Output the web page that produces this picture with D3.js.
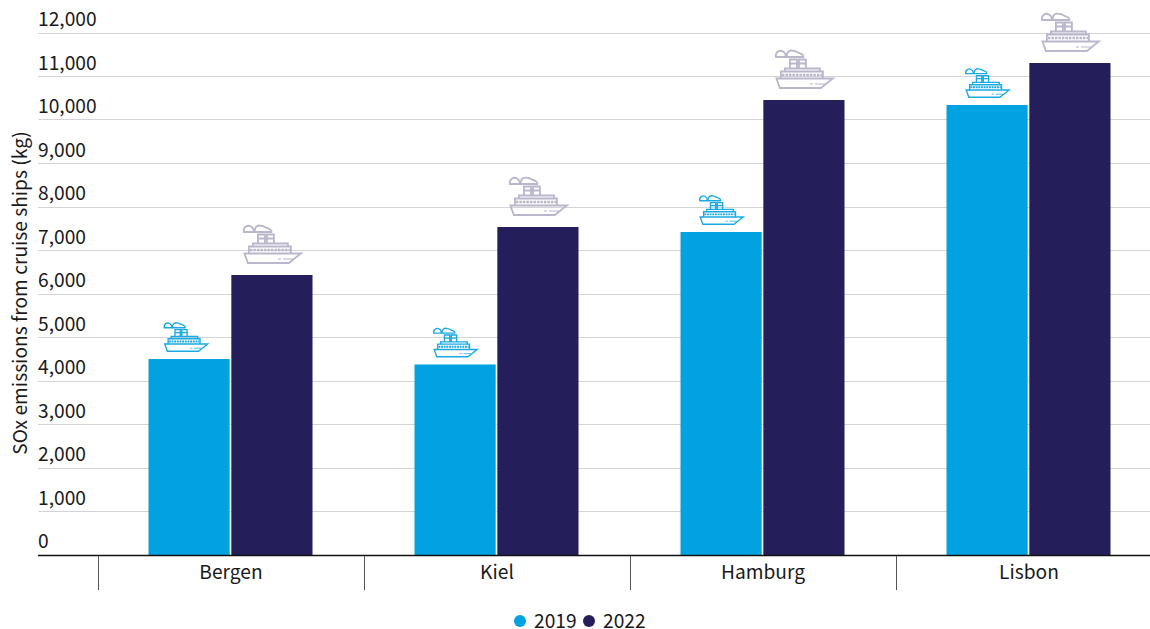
<!DOCTYPE html>
<html><head><meta charset="utf-8">
<script src="https://cdn.jsdelivr.net/npm/d3@7"></script>
<style>
html,body{margin:0;padding:0;background:#fff;overflow:hidden}
text{font-family:"Noto Sans CJK SC","Noto Sans",sans-serif;fill:#1a1a1a}
</style></head><body><svg id="c" width="1150" height="629"></svg>
<script>
const cities = ["Bergen","Kiel","Hamburg","Lisbon"];
const years = ["2019","2022"];
const values2019 = [4505,4380,7425,10345];
const values2022 = [6437,7540,10460,11310];
const yTicks = [0,1000,2000,3000,4000,5000,6000,7000,8000,9000,10000,11000,12000];
const yTitle = "SOx emissions from cruise ships (kg)";
const colors = {"2019":"#00a3e0","2022":"#241f5b"};
const shipColors = {"2019":"#1aa9e3","2022":"#b9b7cc"};

const svg = d3.select("#c");
const y = d3.scaleLinear().domain([0,12000]).range([555,33]);
const x0 = d3.scaleBand().domain(cities).range([98,1162]);
const x1 = d3.scaleBand().domain(years).range([50.5,214.5]).paddingInner(0.02);
const fmt = d3.format(",");
const FS = 19.2;

const g = svg.append("g");
g.selectAll("line.grid").data(yTicks.slice(1)).join("line")
  .attr("x1",38).attr("x2",1150).attr("y1",d=>Math.floor(y(d))+.5).attr("y2",d=>Math.floor(y(d))+.5)
  .attr("stroke","#d4d4d6").attr("stroke-width",1);
g.selectAll("text.tick").data(yTicks).join("text")
  .attr("x",38).attr("y",d=>y(d)-7).attr("font-size",FS)
  .text(d=>fmt(d));

svg.append("text").attr("transform","translate(26.5,293) rotate(-90)")
  .attr("text-anchor","middle").attr("font-size",FS).text(yTitle);

const rows = cities.flatMap((c,i)=>[
  {c,year:"2019",v:values2019[i]},{c,year:"2022",v:values2022[i]}]);
svg.selectAll("rect.bar").data(rows).join("rect")
  .attr("x",d=>x0(d.c)+x1(d.year)).attr("width",x1.bandwidth())
  .attr("y",d=>y(d.v)).attr("height",d=>y(0)-y(d.v))
  .attr("fill",d=>colors[d.year]);

// ship icon, in a 58x39 box
function ship(sel){
  sel.append("path").attr("d","M1.5 28.5H58L51 34L46 38H5Z");
  sel.append("path").attr("d","M6 28V21.5H48V28");
  sel.append("path").attr("d","M10 21.5V18.5H45V21.5");
  sel.append("path").attr("d","M15 18.5V9.5H22V18.5M24 18.5V9.5H31V18.5M15 13.5H31");
  sel.append("path").attr("d","M1 7C0 2 5 -.5 8 1.5C11 3 11 5 11 7Z");
  sel.append("path").attr("d","M12 7C11 2 15 -.5 19 1C21 1 22 2 24 3C27 3.5 29 5.5 28.5 7Z");
  sel.append("path").attr("d","M7 25H47").attr("stroke-dasharray","2.5 1").attr("stroke-width",2.6);
  sel.append("path").attr("d","M35 34H38M40 34H50").attr("stroke-width",1);
}
const shipGroups = svg.selectAll("g.ship").data(rows).join("g")
  .attr("transform",d=>{
    const small = d.year==="2019";
    const s = small?0.76:1;
    const nudge = small&&d.c==="Bergen"?-3.5:0;
    const px = x0(d.c)+x1(d.year)+x1.bandwidth()/2+nudge-29*s;
    return `translate(${px},${y(d.v)-39*s-(small?7:11)}) scale(${s})`;
  })
  .attr("fill","none").attr("stroke",d=>shipColors[d.year]).attr("stroke-width",1.8);
shipGroups.each(function(){ship(d3.select(this));});

svg.append("line").attr("x1",38).attr("x2",1150).attr("y1",555.5).attr("y2",555.5)
  .attr("stroke","#111").attr("stroke-width",1.5);
svg.selectAll("line.sep").data(cities).join("line")
  .attr("x1",d=>x0(d)+.5).attr("x2",d=>x0(d)+.5).attr("y1",556).attr("y2",590)
  .attr("stroke","#555").attr("stroke-width",1);
svg.selectAll("text.cat").data(cities).join("text")
  .attr("x",d=>x0(d)+x0.bandwidth()/2).attr("y",579).attr("text-anchor","middle")
  .attr("font-size",FS).text(d=>d);

const lx = {"2019":[520,534],"2022":[589,603]};
years.forEach(yr=>{
  svg.append("circle").attr("cx",lx[yr][0]).attr("cy",621).attr("r",6).attr("fill",colors[yr]);
  svg.append("text").attr("x",lx[yr][1]).attr("y",628).attr("font-size",FS).text(yr);
});
</script></body></html>
